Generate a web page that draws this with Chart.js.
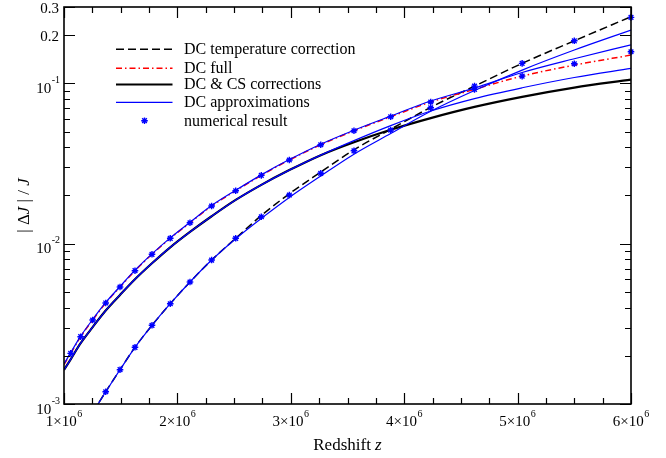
<!DOCTYPE html>
<html><head><meta charset="utf-8">
<script src="https://cdn.jsdelivr.net/npm/chart.js@4.4.0/dist/chart.umd.min.js"></script>
<style>html,body{margin:0;padding:0;background:#fff}</style>
</head><body>
<canvas id="c" width="666" height="458" style="width:666px;height:458px;display:block"></canvas>
<script>
// ---------- data ----------
const zUpper = [1.000e6,1.059e6,1.147e6,1.253e6,1.368e6,1.494e6,1.626e6,1.776e6,1.937e6,2.111e6,2.302e6,2.514e6,2.740e6,2.987e6,3.264e6,3.557e6,3.881e6,4.234e6,4.620e6,5.040e6,5.500e6,6.000e6];
const dcFull  = [1.76e-3,2.07e-3,2.63e-3,3.34e-3,4.27e-3,5.37e-3,6.79e-3,8.59e-3,1.081e-2,1.352e-2,1.719e-2,2.141e-2,2.672e-2,3.33e-2,4.146e-2,5.07e-2,6.20e-2,7.66e-2,9.19e-2,0.1112,0.1302,0.1504];
const apxFull = [1.78e-3,2.09e-3,2.65e-3,3.37e-3,4.30e-3,5.41e-3,6.84e-3,8.65e-3,1.088e-2,1.36e-2,1.73e-2,2.155e-2,2.69e-2,3.35e-2,4.18e-2,5.11e-2,6.26e-2,7.77e-2,9.36e-2,0.117,0.1426,0.1743];
const dcCS    = [1.63e-3,1.90e-3,2.395e-3,3.02e-3,3.83e-3,4.79e-3,6.00e-3,7.55e-3,9.50e-3,1.185e-2,1.484e-2,1.876e-2,2.33e-2,2.88e-2,3.57e-2,4.30e-2,5.14e-2,6.08e-2,7.14e-2,8.25e-2,9.42e-2,0.1057];
const apxCS   = [1.63e-3,1.90e-3,2.395e-3,3.02e-3,3.83e-3,4.79e-3,6.00e-3,7.55e-3,9.50e-3,1.185e-2,1.484e-2,1.876e-2,2.33e-2,2.88e-2,3.57e-2,4.40e-2,5.46e-2,6.73e-2,8.05e-2,9.40e-2,0.1090,0.1242];

const zLower  = [1.253e6,1.368e6,1.494e6,1.626e6,1.776e6,1.937e6,2.111e6,2.302e6,2.514e6,2.740e6,2.987e6,3.264e6,3.557e6,3.881e6,4.234e6,4.620e6,5.040e6,5.500e6,6.000e6];
const dcTemp  = [8.85e-4,1.193e-3,1.637e-3,2.258e-3,3.097e-3,4.224e-3,5.77e-3,7.91e-3,1.081e-2,1.50e-2,2.05e-2,2.80e-2,3.86e-2,5.18e-2,7.10e-2,9.63e-2,0.1335,0.1846,0.261];
const apxTemp = [8.85e-4,1.193e-3,1.637e-3,2.258e-3,3.097e-3,4.224e-3,5.77e-3,7.91e-3,1.075e-2,1.440e-2,1.945e-2,2.645e-2,3.62e-2,4.87e-2,6.70e-2,9.03e-2,0.1212,0.1616,0.2153];

const zNumUpper = [1.059e6,1.147e6,1.253e6,1.368e6,1.494e6,1.626e6,1.776e6,1.937e6,2.111e6,2.302e6,2.514e6,2.740e6,2.987e6,3.264e6,3.557e6,3.881e6,4.234e6,4.620e6,5.040e6,5.500e6,6.000e6];
const numUpper  = [2.07e-3,2.63e-3,3.34e-3,4.27e-3,5.37e-3,6.79e-3,8.59e-3,1.081e-2,1.352e-2,1.719e-2,2.141e-2,2.672e-2,3.33e-2,4.146e-2,5.07e-2,6.20e-2,7.66e-2,9.19e-2,0.1112,0.1327,0.1577];
const zNumLower = [1.368e6,1.494e6,1.626e6,1.776e6,1.937e6,2.111e6,2.302e6,2.514e6,2.740e6,2.987e6,3.264e6,3.557e6,3.881e6,4.234e6,4.620e6,5.040e6,5.500e6,6.000e6];
const numLower  = [1.193e-3,1.637e-3,2.258e-3,3.097e-3,4.224e-3,5.77e-3,7.91e-3,1.081e-2,1.474e-2,2.013e-2,2.75e-2,3.80e-2,5.12e-2,7.05e-2,9.63e-2,0.1335,0.1846,0.2585];

const xTickValues = [1e6,2e6,3e6,4e6,5e6,6e6];
const xTickMantissa = ['1','2','3','4','5','6'];
const xTickExp = '6';
const yTickValues = [0.001,0.01,0.1,0.2,0.3];
const yTickLabels = [['10','-3'],['10','-2'],['10','-1'],['0.2',null],['0.3',null]];
const legendLabels = ['DC temperature correction','DC full','DC & CS corrections','DC approximations','numerical result'];

// ---------- helpers ----------
const pts = (xs, ys) => xs.map((x, i) => ({x, y: ys[i]}));
const SERIF = '"Liberation Serif","DejaVu Serif",serif';
const BLUE = '#0000ff', RED = '#ff0000';
const STAR_R = 3.3, STAR_W = 1.4;

const lineBase = {showLine: true, pointRadius: 0, fill: false, cubicInterpolationMode: 'monotone'};
const starBase = {showLine: false, pointStyle: 'star', pointRadius: STAR_R, pointBorderWidth: STAR_W, borderWidth: STAR_W, borderColor: BLUE, backgroundColor: BLUE, order: 0, clip: false};
const datasets = [
  Object.assign({}, starBase, {label: 'numUpper', data: pts(zNumUpper, numUpper)}),
  Object.assign({}, starBase, {label: 'numLower', data: pts(zNumLower, numLower)}),
  Object.assign({}, lineBase, {label: 'apxFull', data: pts(zUpper, apxFull), borderColor: BLUE, borderWidth: 1.2, order: 1}),
  Object.assign({}, lineBase, {label: 'apxCS', data: pts(zUpper, apxCS), borderColor: BLUE, borderWidth: 1.2, order: 1}),
  Object.assign({}, lineBase, {label: 'apxTemp', data: pts(zLower, apxTemp), borderColor: BLUE, borderWidth: 1.2, order: 1}),
  Object.assign({}, lineBase, {label: legendLabels[1], data: pts(zUpper, dcFull), borderColor: RED, borderWidth: 1.5, borderDash: [6,3,1.5,3], order: 2}),
  Object.assign({}, lineBase, {label: legendLabels[2], data: pts(zUpper, dcCS), borderColor: '#000', borderWidth: 2.2, order: 3}),
  Object.assign({}, lineBase, {label: legendLabels[0], data: pts(zLower, dcTemp), borderColor: '#000', borderWidth: 1.5, borderDash: [8,4], order: 4}),
];

function drawPow(ctx, base, exp, xRef, baseY, supY, align, fb, fs) {
  ctx.font = fb; const w1 = ctx.measureText(base).width;
  let w2 = 0;
  if (exp) { ctx.font = fs; w2 = ctx.measureText(exp).width + 0.5; }
  const total = w1 + w2;
  const x0 = align === 'center' ? xRef - total/2 : xRef - total;
  ctx.textAlign = 'left'; ctx.textBaseline = 'alphabetic';
  ctx.font = fb; ctx.fillText(base, x0, baseY);
  if (exp) { ctx.font = fs; ctx.fillText(exp, x0 + w1 + 0.5, supY); }
}

const decor = {
  id: 'decor',
  afterDraw(chart) {
    const {ctx, chartArea: a, scales: {x, y}} = chart;
    ctx.save();
    ctx.strokeStyle = '#000'; ctx.lineWidth = 1.2;
    ctx.beginPath();
    for (let i = 0; i <= 20; i++) {
      const v = 1e6 + i * 250000;
      const px = Math.round(x.getPixelForValue(v)) + 0.5;
      const L = (i % 4 === 0) ? 11 : 6;
      ctx.moveTo(px, a.bottom); ctx.lineTo(px, a.bottom - L);
      ctx.moveTo(px, a.top); ctx.lineTo(px, a.top + L);
    }
    [1e-3, 1e-2, 1e-1].forEach(d => {
      for (let k = 1; k <= 9; k++) {
        const v = k * d;
        if (v > 0.3 + 1e-9) break;
        const py = Math.round(y.getPixelForValue(v)) + 0.5;
        const major = yTickValues.some(t => Math.abs(t - v) < 1e-9);
        const L = major ? 11 : 6;
        ctx.moveTo(a.left, py); ctx.lineTo(a.left + L, py);
        ctx.moveTo(a.right, py); ctx.lineTo(a.right - L, py);
      }
    });
    ctx.stroke();
    ctx.lineWidth = 1.6;
    ctx.strokeRect(a.left, a.top, a.right - a.left, a.bottom - a.top);

    ctx.fillStyle = '#000';
    const fb = '15px ' + SERIF, fs = '10px ' + SERIF;
    xTickValues.forEach((v, i) => {
      const px = x.getPixelForValue(v);
      drawPow(ctx, xTickMantissa[i] + '\u00d710', xTickExp, px, 425.5, 417, 'center', fb, fs);
    });
    yTickValues.forEach((v, i) => {
      const py = y.getPixelForValue(v);
      const [b, e] = yTickLabels[i];
      if (e) drawPow(ctx, b, e, 60, py + 9.5, py - 0.5, 'right', fb, fs);
      else drawPow(ctx, b, null, 59, py + 5.5, 0, 'right', fb, fs);
    });

    // x title
    ctx.textBaseline = 'alphabetic'; ctx.textAlign = 'left';
    const t1 = 'Redshift ';
    ctx.font = '17px ' + SERIF; const w1 = ctx.measureText(t1).width;
    ctx.font = 'italic 17px ' + SERIF; const w2 = ctx.measureText('z').width;
    const cx = (a.left + a.right) / 2;
    const sx = cx - (w1 + w2) / 2;
    ctx.font = '17px ' + SERIF; ctx.fillText(t1, sx, 450);
    ctx.font = 'italic 17px ' + SERIF; ctx.fillText('z', sx + w1, 450);

    // y title: |ΔJ| / J (rotated)
    const parts = [['| ', false], ['\u0394', false], ['J', true], [' |', false], [' / ', false], ['J', true]];
    const widths = parts.map(([s, it]) => { ctx.font = (it ? 'italic ' : '') + '17px ' + SERIF; return ctx.measureText(s).width; });
    const tot = widths.reduce((p, c) => p + c, 0);
    ctx.save();
    ctx.translate(29, 205.5);
    ctx.rotate(-Math.PI / 2);
    let ox = -tot / 2;
    parts.forEach(([s, it], i) => { ctx.font = (it ? 'italic ' : '') + '17px ' + SERIF; ctx.fillText(s, ox, 0); ox += widths[i]; });
    ctx.restore();

    // legend
    const rows = [49.3, 68.3, 84.5, 102.3, 120.7];
    const styles = [
      {c: '#000', w: 1.5, d: [8,4]},
      {c: RED, w: 1.5, d: [6,3,1.5,3]},
      {c: '#000', w: 2.2, d: []},
      {c: BLUE, w: 1.2, d: []},
      null
    ];
    rows.forEach((ry, i) => {
      const s = styles[i];
      ctx.save();
      if (s) {
        ctx.strokeStyle = s.c; ctx.lineWidth = s.w; ctx.setLineDash(s.d);
        ctx.beginPath(); ctx.moveTo(116, ry); ctx.lineTo(172.5, ry); ctx.stroke();
      } else {
        ctx.strokeStyle = BLUE; ctx.fillStyle = BLUE; ctx.lineWidth = STAR_W;
        Chart.helpers.drawPoint(ctx, {pointStyle: 'star', radius: STAR_R, borderWidth: STAR_W}, 144.5, ry);
      }
      ctx.restore();
      ctx.fillStyle = '#000'; ctx.textAlign = 'left'; ctx.font = '16px ' + SERIF;
      ctx.fillText(legendLabels[i], 184, ry + 4.8);
    });
    ctx.restore();
  }
};

new Chart(document.getElementById('c'), {
  type: 'scatter',
  data: {datasets},
  options: {
    responsive: false,
    animation: false,
    devicePixelRatio: 1,
    layout: {padding: {left: 64, right: 35, top: 7, bottom: 54}},
    plugins: {legend: {display: false}, tooltip: {enabled: false}},
    scales: {
      x: {type: 'linear', min: 1e6, max: 6e6, display: false},
      y: {type: 'logarithmic', min: 0.001, max: 0.3, display: false}
    }
  },
  plugins: [decor]
});
</script>
</body></html>
